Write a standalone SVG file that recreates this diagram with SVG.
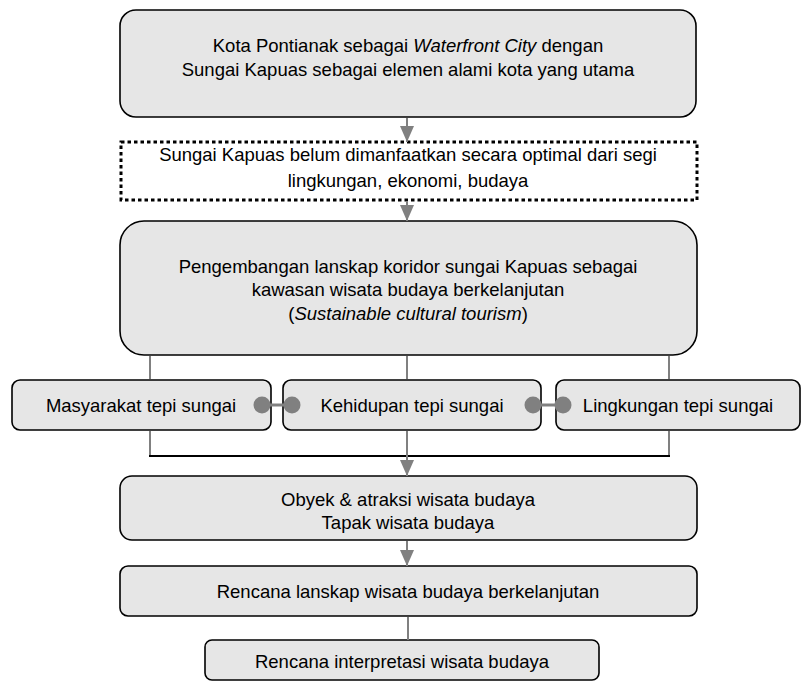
<svg xmlns="http://www.w3.org/2000/svg" width="805" height="682" viewBox="0 0 805 682">
<style>
.box{fill:#e6e6e6;stroke:#000;stroke-width:1.6}
.dot{fill:#fff;stroke:#000;stroke-width:3;stroke-dasharray:3.5 3}
.t{font-family:"Liberation Sans",Arial,sans-serif;font-size:18.5px;fill:#000;text-anchor:middle;dominant-baseline:central}
.g{stroke:#808080;stroke-width:2;fill:none}
.k{stroke:#000;stroke-width:2;fill:none}
.gl{stroke:#808080;stroke-width:3;fill:none}
.c{fill:#808080}
</style>
<defs>
<marker id="ah" viewBox="0 0 16 14" refX="16" refY="7" markerWidth="16" markerHeight="14" markerUnits="userSpaceOnUse" orient="auto">
<path d="M0,0 L16,7 L0,14 Z" fill="#808080"/>
</marker>
</defs>
<g id="n1">
<rect class="box" x="120" y="10" width="576" height="107" rx="16"/>
<text class="t" x="408" y="45">Kota Pontianak sebagai <tspan font-style="italic">Waterfront City</tspan> dengan</text>
<text class="t" x="408" y="69">Sungai Kapuas sebagai elemen alami kota yang utama</text>
</g>
<g id="n2">
<rect class="dot" x="121" y="142" width="576" height="58"/>
<text class="t" x="408" y="154">Sungai Kapuas belum dimanfaatkan secara optimal dari segi</text>
<text class="t" x="408" y="180">lingkungan, ekonomi, budaya</text>
</g>
<g id="n3">
<rect class="box" x="120" y="221" width="577" height="134" rx="24"/>
<text class="t" x="408" y="266">Pengembangan lanskap koridor sungai Kapuas sebagai</text>
<text class="t" x="408" y="289">kawasan wisata budaya berkelanjutan</text>
<text class="t" x="408" y="313">(<tspan font-style="italic">Sustainable cultural tourism</tspan>)</text>
</g>
<g id="n4">
<rect class="box" x="12" y="380" width="259" height="50" rx="8"/>
<text class="t" x="141" y="405">Masyarakat tepi sungai</text>
</g>
<g id="n5">
<rect class="box" x="283" y="380" width="258" height="50" rx="8"/>
<text class="t" x="412" y="405">Kehidupan tepi sungai</text>
</g>
<g id="n6">
<rect class="box" x="556" y="380" width="244" height="50" rx="8"/>
<text class="t" x="678" y="405">Lingkungan tepi sungai</text>
</g>
<g id="n7">
<rect class="box" x="120" y="476" width="577" height="64" rx="12"/>
<text class="t" x="408" y="499">Obyek &amp; atraksi wisata budaya</text>
<text class="t" x="408" y="522">Tapak wisata budaya</text>
</g>
<g id="n8">
<rect class="box" x="120" y="566" width="577" height="50" rx="8"/>
<text class="t" x="408" y="591">Rencana lanskap wisata budaya berkelanjutan</text>
</g>
<g id="n9">
<rect class="box" x="205" y="640" width="394" height="40" rx="7"/>
<text class="t" x="402" y="661">Rencana interpretasi wisata budaya</text>
</g>
<g id="connectors">
<line class="g" x1="407" y1="118" x2="407" y2="142" marker-end="url(#ah)"/>
<line class="g" x1="407" y1="201" x2="407" y2="221" marker-end="url(#ah)"/>
<line class="g" x1="150" y1="356" x2="150" y2="379"/>
<line class="g" x1="407" y1="356" x2="407" y2="379"/>
<line class="g" x1="669" y1="356" x2="669" y2="379"/>
<line class="g" x1="150" y1="431" x2="150" y2="456"/>
<line class="g" x1="669" y1="431" x2="669" y2="456"/>
<line class="k" x1="149" y1="456" x2="670" y2="456"/>
<line class="g" x1="407" y1="431" x2="407" y2="476" marker-end="url(#ah)"/>
<line class="g" x1="407" y1="541" x2="407" y2="566" marker-end="url(#ah)"/>
<line class="g" x1="408" y1="617" x2="408" y2="640"/>
<line class="gl" x1="262" y1="405" x2="292" y2="405"/>
<circle class="c" cx="262" cy="405" r="8.5"/>
<circle class="c" cx="292" cy="405" r="8.5"/>
<line class="gl" x1="533" y1="405" x2="563" y2="405"/>
<circle class="c" cx="533" cy="405" r="8.5"/>
<circle class="c" cx="563" cy="405" r="8.5"/>
</g>
</svg>
